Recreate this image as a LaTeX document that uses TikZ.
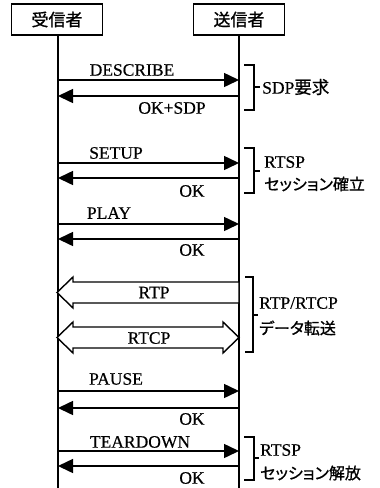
\documentclass[tikz,border=0pt]{standalone}
\usepackage{fontspec}
\setmainfont[FakeBold=0.4]{Liberation Serif}
\newfontfamily\jp[RawFeature={+palt},FakeBold=0.9]{Noto Sans CJK JP}
\usetikzlibrary{arrows.meta}
\begin{document}
\begin{tikzpicture}[x=1pt,y=-1pt,
  head/.style={draw,line width=1.4pt,minimum width=91pt,minimum height=31pt,inner sep=0pt,font=\jp\fontsize{17}{17}\selectfont},
  life/.style={line width=1.5pt},
  msg/.style={line width=1.5pt,-{Triangle[length=15pt,width=14pt]}},
  lbl/.style={font=\fontsize{17.5}{17.5}\selectfont,inner sep=0pt},
  hollow/.style={line width=1.4pt,line join=miter},
  brk/.style={line width=1.3pt},
  note/.style={anchor=west,inner sep=0pt,font=\fontsize{17.5}{17.5}\selectfont},
  jnote/.style={anchor=west,inner sep=0pt,font=\jp\fontsize{16}{16}\selectfont}
]
\useasboundingbox (0,0) rectangle (380,488);
\node[head] (r) at (57,19.5) {受信者};
\node[head] (s) at (239,19.5) {送信者};
\coordinate (rb) at (58,488);
\coordinate (sb) at (239,488);
\draw[life] (r.south -| rb) -- (rb);
\draw[life] (s.south -| sb) -- (sb);

% message end points
\foreach \n/\y in {1/80,2/96,3/163,4/178,5/224,6/239,7/391,8/408,9/451,10/466}{
  \coordinate (l\n) at (58,\y);
  \coordinate (r\n) at (239,\y);
}
\draw[msg] (l1) -- (r1);
\draw[msg] (r2) -- (l2);
\draw[msg] (l3) -- (r3);
\draw[msg] (r4) -- (l4);
\draw[msg] (l5) -- (r5);
\draw[msg] (r6) -- (l6);
\draw[msg] (l7) -- (r7);
\draw[msg] (r8) -- (l8);
\draw[msg] (l9) -- (r9);
\draw[msg] (r10) -- (l10);

\node[lbl] (t1) at (132,70) {DESCRIBE};
\node[lbl] (t2) at (172,108) {OK+SDP};
\node[lbl] (t3) at (116,153) {SETUP};
\node[lbl] (t4) at (192,191) {OK};
\node[lbl] (t5) at (109,213) {PLAY};
\node[lbl] (t6) at (192,250) {OK};
\node[lbl] (t7) at (116,379) {PAUSE};
\node[lbl] (t8) at (192,419) {OK};
\node[lbl] (t9) at (140,442) {TEARDOWN};
\node[lbl] (t10) at (192,478) {OK};

% hollow arrows
\draw[hollow,fill=white] (57,292.5) -- (73,277) -- (73,282) -- (239,282) -- (239,303) -- (73,303) -- (73,308) -- cycle;
\node[lbl] (rtp) at (154,292.5) {RTP};
\draw[hollow,fill=white] (57,337.5) -- (73,322) -- (73,327) -- (223,327) -- (223,322) -- (239,337.5) -- (223,353) -- (223,348) -- (73,348) -- (73,353) -- cycle;
\node[lbl] (rtcp) at (149,338) {RTCP};

% brackets
\draw[brk] (244,65) -- (254,65) -- (254,110) -- (244,110) (254,87) -- (260,87);
\node[note] (n1) at (262,87) {SDP\jp 要求};

\draw[brk] (244,148) -- (254,148) -- (254,193) -- (244,193) (254,171) -- (260,171);
\node[note] (n2a) at (264,162) {RTSP};
\node[jnote] (n2b) at (264,184) {セッション確立};

\draw[brk] (245,277) -- (253,277) -- (253,352) -- (245,352) (253,315) -- (258,315);
\node[note] (n3a) at (259,303) {RTP/RTCP};
\node[jnote] (n3b) at (259,328) {データ転送};

\draw[brk] (244,437) -- (254,437) -- (254,480) -- (244,480) (254,458) -- (259,458);
\node[note] (n4a) at (260,450) {RTSP};
\node[jnote] (n4b) at (260,473) {セッション解放};
\end{tikzpicture}
\end{document}
